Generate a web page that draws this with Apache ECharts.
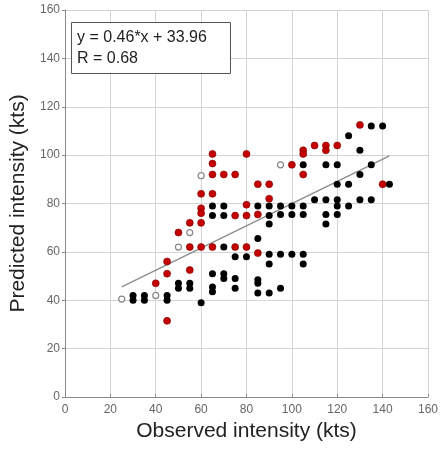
<!DOCTYPE html>
<html>
<head>
<meta charset="utf-8">
<script src="https://cdn.jsdelivr.net/npm/echarts@6/dist/echarts.min.js"></script>
<style>html,body{margin:0;padding:0;background:#fff;}#c{width:441px;height:449px;}</style>
</head>
<body>
<div id="c"></div>
<script>
var xTicks = [0, 20, 40, 60, 80, 100, 120, 140, 160];
var yTicks = [0, 20, 40, 60, 80, 100, 120, 140, 160];

var blackPoints = [
  [30,40],[30,42],[35,40],[35,42],[45,40],[45,42],
  [50,45],[50,47],[55,45],[55,47],[60,39],
  [65,79],[65,75],[65,51],[65,45.5],[65,43.5],
  [70,79],[70,75],[70,62],[70,51],[70,49],
  [75,58],[75,49],[75,45],
  [80,58],
  [85,79],[85,65.5],[85,48.5],[85,47],[85,43],
  [90,79],[90,75],[90,71.5],[90,59],[90,55],[90,43],
  [95,79],[95,75.5],[95,59],[95,45],
  [100,79],[100,75.5],[100,59],
  [105,96],[105,79],[105,75.5],[105,59],[105,55],
  [110,81.5],
  [115,96],[115,81.5],[115,75.5],[115,71.5],
  [120,96],[120,88],[120,81.5],[120,79],[120,75.5],
  [125,108],[125,88],[125,79],
  [130,102],[130,92],[130,81.5],
  [135,112],[135,96],[135,81.5],
  [140,112],[143,88]
];

var redPoints = [
  [40,47],[45,56],[45,51],[45,31.5],[50,68],[55,72],[55,62],[55,52.5],
  [60,84],[60,78],[60,76],[60,72],[60,62],
  [65,100.5],[65,96.5],[65,92],[65,84],[65,62],
  [70,92],[75,92],[75,75],[75,62],
  [80,100.5],[80,79.5],[80,75],[80,62],
  [85,88],[85,75.5],[85,59.5],
  [90,88],[90,82],
  [100,96],[105,102],[105,100.5],[105,92],
  [110,104],[115,104],[115,102],[120,104],
  [130,112.5],[140,88]
];

var openPoints = [[25,40.5],[40,42],[50,62],[55,68],[60,91.5],[95,96]];

var fitLineX = [25, 143];
var fitLineY = [45.5, 99.7];
var fitText = ['y = 0.46*x + 33.96', 'R = 0.68'];

var fitLine = fitLineX.map(function (x, i) { return [x, fitLineY[i]]; });

var FONT = 'Liberation Sans, Arial, sans-serif';
var chart = echarts.init(document.getElementById('c'), null, {renderer: 'canvas'});
chart.setOption({
  animation: false,
  backgroundColor: '#fff',
  title: {
    text: fitText.join('\n'),
    left: 71,
    top: 22,
    backgroundColor: '#fff',
    borderColor: '#555',
    borderWidth: 1,
    padding: [5, 24, 5, 6],
    textStyle: {fontFamily: FONT, fontSize: 16, fontWeight: 'normal', color: '#222', lineHeight: 21}
  },
  grid: {left: 63, right: 10, top: 10, bottom: 52, containLabel: false},
  xAxis: {
    type: 'value', min: xTicks[0], max: xTicks[xTicks.length - 1], interval: 20,
    name: 'Observed intensity (kts)', nameLocation: 'middle', nameGap: 24,
    nameTextStyle: {fontFamily: FONT, fontSize: 21, color: '#222'},
    axisLine: {show: true, onZero: false, lineStyle: {color: '#8a8a8a', width: 1}},
    axisTick: {show: true, inside: true, length: 3, lineStyle: {color: '#8a8a8a'}},
    axisLabel: {fontFamily: FONT, fontSize: 12, color: '#666', margin: 7},
    splitLine: {show: true, lineStyle: {color: '#d4d4d4', width: 1}}
  },
  yAxis: {
    type: 'value', min: yTicks[0], max: yTicks[yTicks.length - 1], interval: 20,
    name: 'Predicted intensity (kts)', nameLocation: 'middle', nameGap: 36,
    nameTextStyle: {fontFamily: FONT, fontSize: 21, color: '#222'},
    axisLine: {show: true, onZero: false, lineStyle: {color: '#8a8a8a', width: 1}},
    axisTick: {show: true, inside: false, length: 3, lineStyle: {color: '#8a8a8a'}},
    axisLabel: {fontFamily: FONT, fontSize: 12, color: '#666', margin: 5},
    splitLine: {show: true, lineStyle: {color: '#d4d4d4', width: 1}}
  },
  series: [
    {
      type: 'line', data: fitLine, symbol: 'none', silent: true, z: 3,
      lineStyle: {color: '#8c8c8c', width: 1.3}
    },
    {
      type: 'scatter', data: blackPoints, symbol: 'circle', symbolSize: 7, z: 4,
      itemStyle: {color: '#000', opacity: 1}
    },
    {
      type: 'scatter', data: redPoints, symbol: 'circle', symbolSize: 7, z: 5,
      itemStyle: {color: '#c40000', borderColor: '#7a0000', borderWidth: 0.6, opacity: 1}
    },
    {
      type: 'scatter', data: openPoints, symbol: 'circle', symbolSize: 6, z: 5,
      itemStyle: {color: '#fff', borderColor: '#888', borderWidth: 1.2, opacity: 1}
    }
  ]
});
</script>
</body>
</html>
